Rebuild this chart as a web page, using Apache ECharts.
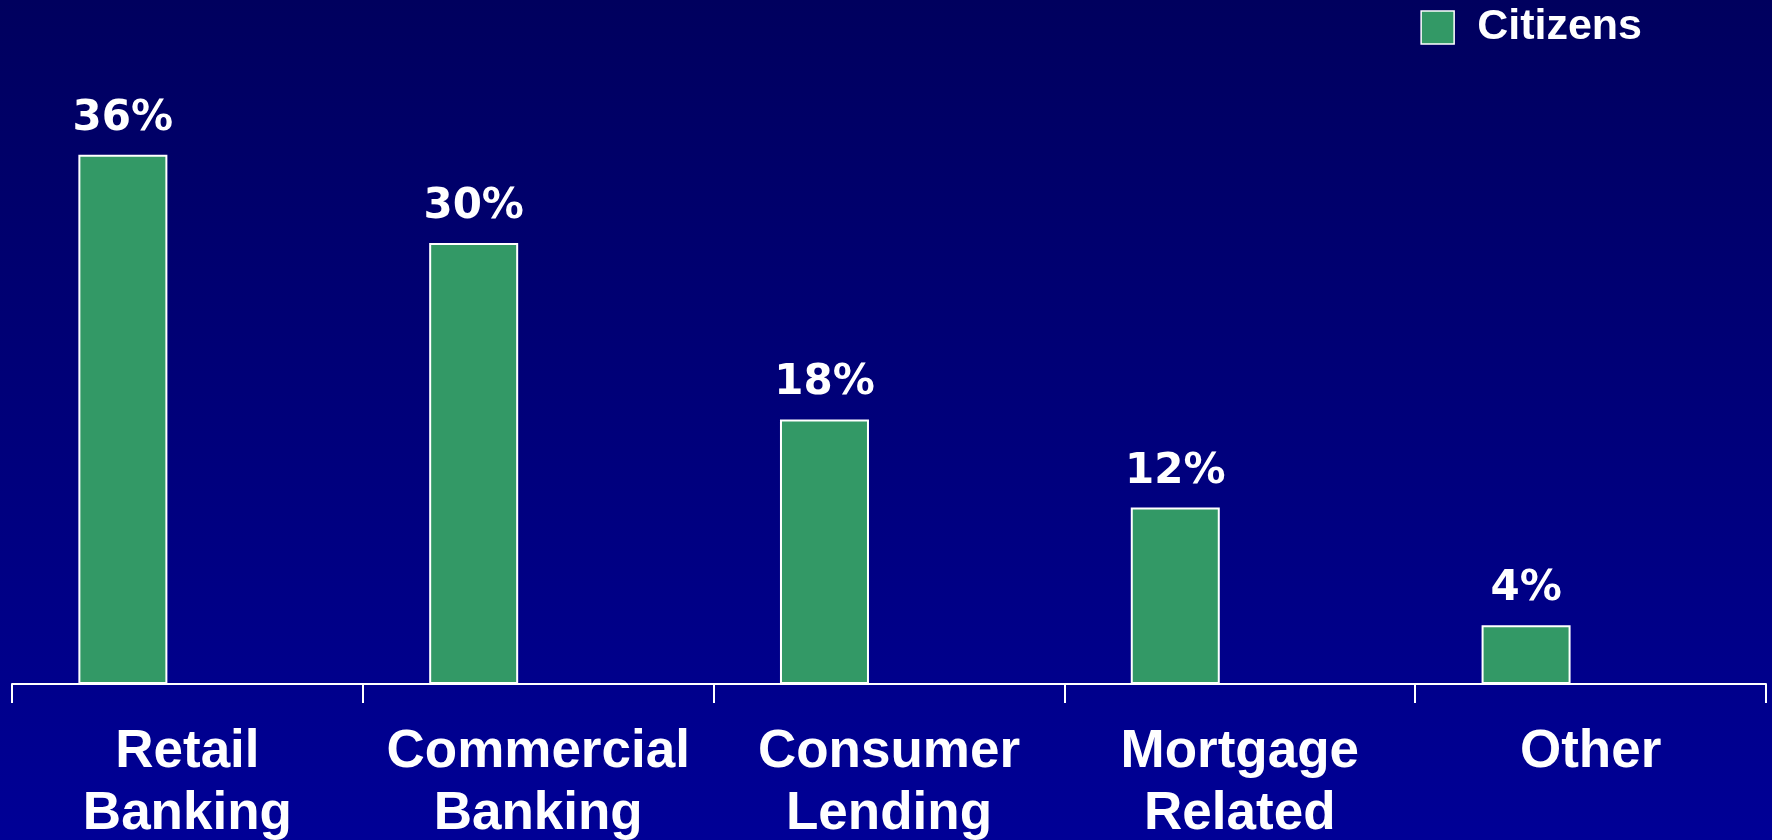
<!DOCTYPE html>
<html>
<head>
<meta charset="utf-8">
<style>
  html, body { margin: 0; padding: 0; }
  #chart { width: 1772px; height: 840px; }
</style>
<script src="https://cdn.jsdelivr.net/npm/echarts@6/dist/echarts.min.js"></script>
</head>
<body>
<div id="chart"></div>
<script>
// Revenue mix by business line (percent of total)
const categories = ['Retail\nBanking', 'Commercial\nBanking', 'Consumer\nLending', 'Mortgage\nRelated', 'Other'];
const citizensShare = [36, 30, 18, 12, 4];
// Empty companion series keeps each bar on the left half of its slot
const companionShare = [null, null, null, null, null];

const chart = echarts.init(document.getElementById('chart'), null, { renderer: 'canvas' });

chart.setOption({
  animation: false,
  backgroundColor: {
    type: 'linear', x: 0, y: 0, x2: 0, y2: 1,
    colorStops: [
      { offset: 0, color: '#00005e' },
      { offset: 1, color: '#000096' }
    ]
  },
  legend: {
    data: ['Citizens'],
    top: 1,
    right: 125,
    icon: 'rect',
    itemWidth: 33,
    itemHeight: 33,
    itemStyle: { borderColor: '#ffffff', borderWidth: 1.5 },
    textStyle: {
      color: '#ffffff',
      fontFamily: 'Liberation Sans',
      fontWeight: 'bold',
      fontSize: 43,
      padding: [0, 0, 0, 18]
    }
  },
  grid: {
    left: 12, right: 6, top: 96, bottom: 156,
    containLabel: false,
    outerBoundsMode: 'none'
  },
  xAxis: {
    type: 'category',
    data: categories,
    boundaryGap: true,
    axisLine: { show: true, lineStyle: { color: '#ffffff', width: 2 } },
    axisTick: { show: true, length: 19, lineStyle: { color: '#ffffff', width: 2 } },
    axisLabel: {
      interval: 0,
      margin: 37,
      color: '#ffffff',
      fontFamily: 'Liberation Sans',
      fontWeight: 'bold',
      fontSize: 53,
      lineHeight: 62
    },
    splitLine: { show: false }
  },
  yAxis: {
    type: 'value',
    min: 0,
    max: 40,
    show: false,
    splitLine: { show: false }
  },
  series: [
    {
      name: 'Citizens',
      type: 'bar',
      data: citizensShare,
      barWidth: 89,
      barGap: '45%',
      itemStyle: { color: '#339966', borderColor: '#ffffff', borderWidth: 2 },
      label: {
        show: true,
        position: 'top',
        distance: 15,
        formatter: '{c}%',
        color: '#ffffff',
        fontFamily: 'DejaVu Sans',
        fontWeight: 'bold',
        fontSize: 42
      }
    },
    {
      name: 'companion',
      type: 'bar',
      data: companionShare,
      barWidth: 89,
      itemStyle: { color: 'transparent' }
    }
  ]
});
</script>
</body>
</html>
